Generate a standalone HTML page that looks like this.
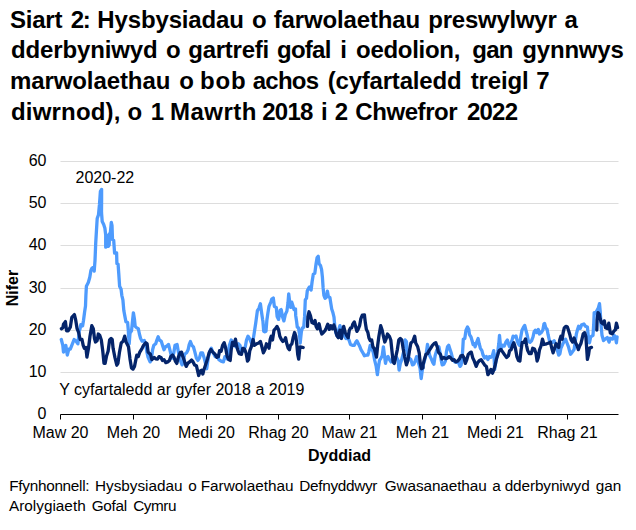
<!DOCTYPE html>
<html><head><meta charset="utf-8"><title>Siart 2</title>
<style>
html,body{margin:0;padding:0;background:#fff;}
svg{display:block;}
text{font-family:"Liberation Sans",sans-serif;fill:#000;}
.t{font-weight:bold;font-size:24px;}
.a{font-size:16px;}
.b{font-size:16px;font-weight:bold;}
.f{font-size:15.33px;}
</style></head><body>
<svg width="636" height="530" viewBox="0 0 636 530">
<rect width="636" height="530" fill="#fff"/>
<text class="t" x="10.0" y="27.5" textLength="52.48" lengthAdjust="spacing">Siart</text>
<text class="t" x="70.7" y="27.5" textLength="20.14" lengthAdjust="spacing">2:</text>
<text class="t" x="97.3" y="27.5" textLength="146.65" lengthAdjust="spacing">Hysbysiadau</text>
<text class="t" x="252.0" y="27.5">o</text>
<text class="t" x="273.7" y="27.5" textLength="146.5" lengthAdjust="spacing">farwolaethau</text>
<text class="t" x="428.3" y="27.5" textLength="128.51" lengthAdjust="spacing">preswylwyr</text>
<text class="t" x="564.6" y="27.5">a</text>
<text class="t" x="11.0" y="58.2" textLength="146.6" lengthAdjust="spacing">dderbyniwyd</text>
<text class="t" x="166.0" y="58.2">o</text>
<text class="t" x="188.3" y="58.2" textLength="80.86" lengthAdjust="spacing">gartrefi</text>
<text class="t" x="277.0" y="58.2" textLength="54.33" lengthAdjust="spacing">gofal</text>
<text class="t" x="340.3" y="58.2">i</text>
<text class="t" x="356.0" y="58.2" textLength="104.41" lengthAdjust="spacing">oedolion,</text>
<text class="t" x="472.3" y="58.2" textLength="41.17" lengthAdjust="spacing">gan</text>
<text class="t" x="522.3" y="58.2" textLength="101.54" lengthAdjust="spacing">gynnwys</text>
<text class="t" x="10.0" y="89.4" textLength="160.3" lengthAdjust="spacing">marwolaethau</text>
<text class="t" x="179.3" y="89.4">o</text>
<text class="t" x="200.0" y="89.4" textLength="45.78" lengthAdjust="spacing">bob</text>
<text class="t" x="252.7" y="89.4" textLength="66.38" lengthAdjust="spacing">achos</text>
<text class="t" x="327.7" y="89.4" textLength="133.87" lengthAdjust="spacing">(cyfartaledd</text>
<text class="t" x="470.7" y="89.4" textLength="57.85" lengthAdjust="spacing">treigl</text>
<text class="t" x="536.3" y="89.4">7</text>
<text class="t" x="11.0" y="120.1" textLength="109.45" lengthAdjust="spacing">diwrnod),</text>
<text class="t" x="127.6" y="120.1">o</text>
<text class="t" x="150.7" y="120.1">1</text>
<text class="t" x="170.0" y="120.1" textLength="86.4" lengthAdjust="spacing">Mawrth</text>
<text class="t" x="262.3" y="120.1" textLength="50.99" lengthAdjust="spacing">2018</text>
<text class="t" x="321.0" y="120.1">i</text>
<text class="t" x="334.7" y="120.1">2</text>
<text class="t" x="355.3" y="120.1" textLength="102.37" lengthAdjust="spacing">Chwefror</text>
<text class="t" x="467.0" y="120.1" textLength="50.99" lengthAdjust="spacing">2022</text>
<text class="f" x="9.3" y="490.5" textLength="80.24" lengthAdjust="spacing">Ffynhonnell:</text>
<text class="f" x="95.0" y="490.5" textLength="87.44" lengthAdjust="spacing">Hysbysiadau</text>
<text class="f" x="188.3" y="490.5">o</text>
<text class="f" x="200.7" y="490.5" textLength="92.88" lengthAdjust="spacing">Farwolaethau</text>
<text class="f" x="299.3" y="490.5" textLength="78.05" lengthAdjust="spacing">Defnyddwyr</text>
<text class="f" x="384.7" y="490.5" textLength="102.03" lengthAdjust="spacing">Gwasanaethau</text>
<text class="f" x="492.3" y="490.5">a</text>
<text class="f" x="504.7" y="490.5" textLength="84.96" lengthAdjust="spacing">dderbyniwyd</text>
<text class="f" x="595.7" y="490.5" textLength="25.58" lengthAdjust="spacing">gan</text>
<text class="f" x="9.0" y="510.5" textLength="76.69" lengthAdjust="spacing">Arolygiaeth</text>
<text class="f" x="91.7" y="510.5" textLength="35.39" lengthAdjust="spacing">Gofal</text>
<text class="f" x="133.3" y="510.5" textLength="43.14" lengthAdjust="spacing">Cymru</text>
<line x1="60.5" x2="618.5" y1="372.5" y2="372.5" stroke="#dddddd" stroke-width="1"/>
<line x1="60.5" x2="618.5" y1="330.5" y2="330.5" stroke="#dddddd" stroke-width="1"/>
<line x1="60.5" x2="618.5" y1="288.5" y2="288.5" stroke="#dddddd" stroke-width="1"/>
<line x1="60.5" x2="618.5" y1="245.5" y2="245.5" stroke="#dddddd" stroke-width="1"/>
<line x1="60.5" x2="618.5" y1="203.5" y2="203.5" stroke="#dddddd" stroke-width="1"/>
<line x1="60.5" x2="618.5" y1="161.5" y2="161.5" stroke="#dddddd" stroke-width="1"/>
<text class="a" x="46.5" y="419.0" text-anchor="end">0</text>
<text class="a" x="46.5" y="377.0" text-anchor="end">10</text>
<text class="a" x="46.5" y="335.0" text-anchor="end">20</text>
<text class="a" x="46.5" y="293.0" text-anchor="end">30</text>
<text class="a" x="46.5" y="250.0" text-anchor="end">40</text>
<text class="a" x="46.5" y="208.0" text-anchor="end">50</text>
<text class="a" x="46.5" y="166.0" text-anchor="end">60</text>
<polyline fill="none" stroke="#4e9bfd" stroke-width="3.3" stroke-linejoin="round" stroke-linecap="round" points="61.3,339.5 62.8,345.3 63.5,352.1 65.1,349.8 65.8,345.3 67.3,355.1 68.8,349.1 70.3,349.1 71.8,345.3 74.1,339.5 75.6,340.5 77.9,343.8 79.4,330.2 80.0,329.2 80.8,324.7 82.6,325.9 83.5,320.5 84.6,312.0 85.5,306.0 85.9,295.3 86.4,286.2 88.3,282.5 89.8,277.2 90.9,270.4 92.0,268.1 93.2,267.4 94.2,271.1 95.0,260.6 95.7,243.4 96.5,229.8 97.2,218.5 98.5,214.7 99.5,204.2 100.4,191.3 101.6,189.4 101.6,199.6 101.5,212.5 102.2,221.5 103.7,224.5 104.9,228.3 105.7,235.1 105.7,247.2 106.8,246.4 107.1,235.1 108.3,246.4 109.2,244.9 109.5,233.6 110.2,234.3 111.3,222.3 112.0,225.3 112.5,239.6 113.7,240.4 114.6,253.2 116.6,252.8 116.9,263.6 118.1,264.3 118.8,274.2 119.6,286.2 121.1,289.2 121.8,295.3 122.9,299.8 123.8,310.4 124.9,316.4 125.9,321.7 127.6,322.5 128.3,330.0 128.5,334.7 129.2,343.8 130.0,333.2 131.5,330.9 132.5,321.1 133.4,312.8 134.5,319.6 135.2,326.4 136.8,327.9 138.3,328.7 139.4,334.0 140.6,338.5 142.1,341.1 144.3,340.5 145.8,345.3 146.9,352.1 148.1,357.4 150.1,361.9 151.4,359.6 152.6,349.8 153.8,345.3 155.7,343.8 156.9,340.0 158.2,336.7 159.4,340.0 161.2,341.1 162.5,345.3 164.0,349.8 165.5,346.8 167.0,346.0 168.5,344.5 169.5,348.3 170.8,353.6 172.0,358.1 173.8,352.8 175.0,345.3 177.1,344.5 178.0,349.8 179.1,355.8 180.6,361.1 182.1,364.9 183.6,360.4 184.6,354.3 186.6,352.8 188.1,349.8 189.2,344.5 190.4,341.5 191.9,345.3 193.4,346.8 194.9,352.1 196.4,358.1 197.9,360.4 199.4,358.1 200.9,352.8 202.5,352.8 204.0,357.4 205.5,363.4 206.7,368.7 208.3,357.4 209.8,351.3 211.3,348.3 212.8,352.1 215.1,356.6 217.4,355.8 218.9,359.6 221.1,361.1 223.4,361.9 224.9,356.6 227.2,358.9 229.4,345.3 231.2,340.0 232.5,341.5 234.0,345.3 236.2,346.8 238.5,343.8 240.0,345.3 241.5,352.8 245.3,346.8 246.5,340.0 248.0,336.2 249.8,339.2 251.3,343.0 253.1,340.0 254.3,332.5 255.8,322.6 257.4,310.6 258.9,308.3 260.4,303.8 261.4,311.3 262.6,319.6 262.9,321.0 263.7,331.2 264.8,331.8 266.0,331.2 266.9,319.9 267.9,313.1 269.0,306.3 270.8,302.1 271.8,299.1 273.3,298.0 274.4,306.6 276.3,307.4 277.1,316.4 278.6,319.4 280.1,310.4 281.2,309.6 282.4,316.4 283.9,320.9 285.4,314.2 286.9,311.1 288.0,302.8 288.7,293.8 289.6,301.3 290.7,307.4 291.7,302.1 292.9,305.8 294.0,309.6 295.5,308.9 295.7,315.4 296.6,321.5 297.3,327.3 298.5,327.7 299.4,333.5 300.2,343.1 300.9,336.0 301.4,331.5 302.5,327.7 303.7,327.3 304.6,316.4 305.3,299.8 306.5,298.3 307.3,290.8 308.5,288.5 309.5,287.0 311.1,290.0 312.1,281.7 313.3,274.2 314.8,273.4 316.0,264.3 317.1,257.5 318.2,256.3 319.1,263.6 320.6,265.8 321.6,269.6 322.4,277.2 323.1,287.7 323.9,295.3 325.1,298.3 326.6,296.8 327.4,291.1 328.4,296.8 329.9,297.5 330.7,302.8 331.7,308.9 332.9,312.6 334.0,317.2 334.6,324.2 335.7,332.5 337.2,336.2 338.4,330.9 339.9,325.7 341.1,328.7 342.2,334.0 344.5,336.2 346.0,338.5 347.5,337.7 349.0,340.0 350.5,344.5 352.3,345.3 354.3,345.3 355.8,342.3 356.9,340.8 358.4,343.8 359.9,346.8 361.1,349.8 362.9,352.8 364.4,355.8 366.4,355.1 367.9,355.1 368.9,351.3 370.2,345.3 373.2,352.1 374.7,360.4 376.2,366.4 377.4,374.7 378.5,366.4 379.5,360.4 381.0,358.1 382.2,355.8 383.4,346.8 384.5,355.8 385.5,363.4 386.8,357.4 388.0,356.6 389.5,359.6 391.0,361.9 396.6,357.4 398.1,360.4 399.1,370.2 400.3,363.4 401.5,360.4 404.1,349.8 405.2,340.0 406.4,341.5 407.1,349.8 408.2,357.4 410.9,359.6 412.4,364.9 413.9,364.2 415.4,360.4 416.6,356.6 417.7,360.4 420.0,367.9 421.2,378.5 422.2,370.9 423.3,364.9 424.8,359.6 426.3,352.8 427.5,344.5 428.8,351.3 429.8,355.8 431.3,358.9 432.8,362.6 433.9,364.2 435.1,355.8 436.9,349.8 438.9,346.8 439.9,352.1 441.1,359.6 442.2,364.9 443.8,364.2 445.4,361.1 446.4,352.1 447.5,346.8 448.7,345.3 449.9,349.1 451.4,353.6 452.5,358.1 454.7,361.9 458.5,362.6 460.0,366.4 461.1,364.9 462.0,359.6 462.7,349.8 463.3,339.2 464.8,338.5 466.0,330.2 467.5,326.9 468.8,329.4 469.5,334.7 471.0,337.0 472.1,340.8 473.1,344.5 474.3,343.8 475.1,346.8 476.6,342.3 478.1,338.5 479.2,343.8 480.4,348.3 481.9,350.6 483.1,355.1 484.6,358.1 486.4,356.6 487.9,359.6 489.4,356.6 490.9,357.4 492.5,355.1 493.7,350.6 494.7,369.4 496.0,360.4 496.8,356.6 497.8,351.3 498.8,343.8 499.5,335.5 500.3,343.8 501.3,348.3 502.8,345.3 504.3,346.0 505.8,342.3 507.4,340.0 508.4,343.8 509.6,346.8 511.9,340.8 513.1,336.2 514.9,337.0 516.0,335.9 517.2,340.8 518.4,343.8 519.4,345.3 520.6,337.7 522.0,330.2 523.5,327.2 524.7,325.4 525.9,330.2 527.3,335.5 528.5,341.5 530.0,342.3 531.5,340.8 533.0,337.0 534.2,331.7 535.3,330.2 536.8,332.5 538.3,329.4 539.5,334.0 541.3,332.5 542.8,330.2 543.9,324.2 544.6,323.4 545.8,327.9 547.1,329.4 548.1,334.7 549.3,340.0 550.4,342.3 552.6,342.3 554.2,340.8 555.4,343.8 557.2,349.8 558.7,355.1 559.9,353.6 560.9,348.3 562.5,344.5 564.0,341.5 565.5,339.2 567.0,343.0 568.5,346.8 569.6,351.1 570.6,354.2 572.3,351.9 574.1,349.6 575.3,341.3 576.4,333.8 577.4,330.0 578.6,326.2 580.2,328.5 581.7,324.7 583.9,324.0 585.4,326.2 587.4,327.0 588.5,338.3 589.5,342.8 590.7,336.8 593.0,335.3 593.7,324.7 594.2,312.6 595.5,313.4 597.1,310.4 598.3,308.1 599.5,303.6 600.2,311.1 601.0,324.7 602.0,335.3 603.5,340.6 605.1,339.1 607.3,337.5 609.1,342.1 610.3,338.3 612.6,339.1 614.1,335.3 615.3,336.8 616.4,342.8 617.1,336.8"/>
<polyline fill="none" stroke="#04246a" stroke-width="3.3" stroke-linejoin="round" stroke-linecap="round" points="61.4,328.7 62.8,327.9 63.5,324.2 65.4,321.6 66.6,330.9 68.1,330.9 70.3,327.2 71.8,317.4 74.4,314.6 75.6,319.6 77.1,328.7 78.6,332.5 80.2,339.5 82.0,339.5 83.2,345.3 84.4,348.3 85.9,347.5 86.9,357.1 88.5,348.3 90.0,336.2 91.8,325.7 93.3,328.7 94.5,338.5 95.5,342.0 97.1,340.8 98.3,334.0 99.8,335.5 101.3,340.0 102.8,351.3 104.0,363.4 105.1,363.4 106.6,355.8 108.1,351.3 109.6,340.0 111.1,338.5 112.2,339.5 113.1,348.3 114.9,357.4 116.8,365.2 117.9,363.4 119.4,352.8 121.2,343.0 123.2,341.1 124.7,336.2 126.2,342.3 128.5,346.8 130.0,358.9 131.5,367.9 133.0,369.1 134.5,366.4 136.0,358.9 136.8,355.1 138.3,356.6 139.8,352.1 142.1,348.3 143.6,345.3 145.8,342.7 147.1,343.8 148.1,352.1 150.4,354.3 151.9,359.6 154.2,357.4 155.7,358.9 157.5,359.2 159.0,356.6 160.9,357.4 162.5,360.4 164.0,359.6 165.8,362.6 167.7,361.9 169.5,360.4 170.8,356.6 172.6,355.1 174.1,357.4 175.3,361.1 176.8,363.4 178.3,357.4 180.1,352.8 181.6,352.1 182.8,356.6 184.0,359.6 185.1,363.4 186.2,366.4 187.7,363.4 189.6,361.9 191.6,360.1 193.1,361.9 194.6,364.9 196.4,365.7 197.6,370.9 198.7,375.5 200.2,370.9 201.7,370.2 202.8,374.0 204.0,369.4 205.5,364.9 207.5,358.9 209.1,352.8 210.9,349.5 212.8,352.1 215.1,354.3 216.9,357.4 218.4,356.6 219.6,350.6 221.1,351.3 222.6,345.3 224.2,342.7 225.7,348.3 227.2,356.6 228.7,359.6 230.2,360.4 231.2,349.8 232.5,342.3 234.0,345.3 235.5,339.2 236.5,345.3 237.7,349.8 239.2,353.6 241.5,354.3 242.7,348.3 244.5,349.1 246.0,352.8 247.5,361.1 248.6,359.6 249.8,350.6 251.3,346.8 253.1,339.5 254.3,345.3 256.6,343.8 258.9,343.0 260.4,341.5 261.9,346.8 263.4,352.8 264.9,349.8 266.4,343.8 267.9,345.3 269.0,348.3 270.2,339.2 271.2,336.2 272.5,340.0 274.0,330.2 275.5,328.7 277.0,326.4 278.5,329.4 279.8,336.2 281.4,339.5 282.9,341.5 284.4,340.5 285.6,337.7 286.8,343.8 288.2,348.3 289.4,349.8 290.4,345.3 291.9,343.8 293.1,337.7 294.6,332.5 295.8,336.2 296.9,345.3 297.7,354.3 298.7,359.2 299.5,351.3 299.9,346.8 301.4,347.1 303.2,347.5"/>
<polyline fill="none" stroke="#04246a" stroke-width="3.3" stroke-linejoin="round" stroke-linecap="round" points="307.5,326.4 307.9,316.6 309.0,311.8 310.5,315.8 312.0,322.6 313.5,323.4 315.0,320.4 316.1,326.4 317.3,328.7 319.1,323.8 320.3,329.4 321.8,334.0 323.3,332.5 324.8,330.9 326.3,327.9 327.8,324.2 329.4,329.4 330.9,325.7 332.4,328.7 333.9,324.9 335.4,330.2 336.9,335.5 338.4,337.7 339.9,330.2 341.4,338.5 342.6,330.2 343.7,326.4 345.2,332.5 346.7,335.5 348.2,337.7 349.3,330.2 350.5,327.9 351.7,327.9 352.8,324.2 354.3,321.9 355.8,327.2 356.9,331.4 358.1,329.4 359.6,325.7 360.8,318.9 362.3,315.1 364.4,314.8 365.3,322.6 366.4,329.4 367.9,332.5 368.9,337.7 370.2,340.5 371.7,340.0 372.9,346.8 374.2,348.3 375.4,352.8 376.5,357.1 377.7,345.3 378.9,336.2 380.7,325.7 382.2,330.2 383.4,336.2 384.8,342.0 386.0,339.2 387.5,334.0 389.3,336.2 390.8,340.0 392.0,351.3 393.1,361.9 394.3,363.4 395.5,358.1 397.3,349.8 398.8,340.0 400.3,338.5 401.8,340.0 403.1,348.3 404.6,356.6 406.4,364.9 407.9,360.4 409.4,351.3 410.9,343.0 412.7,341.5 414.7,336.2 415.7,343.0 417.7,346.8 419.2,352.8 420.3,363.4 421.5,368.7 423.0,367.9 423.0,364.9 424.5,358.9 426.0,354.3 427.5,353.6 429.1,350.6 430.6,348.3 432.4,345.3 433.9,343.8 435.8,342.7 437.4,347.5 438.4,352.1 440.4,354.3 441.9,358.9 443.7,357.4 445.7,358.6 447.5,358.1 449.0,356.6 450.9,358.1 452.5,360.4 454.0,359.6 455.8,361.9 457.7,361.1 459.5,358.9 460.8,355.8 462.7,355.5 464.1,358.1 465.3,363.4 466.8,359.6 468.3,354.3 469.8,352.8 471.3,352.1 472.8,358.1 474.0,360.4 475.1,363.4 476.2,366.4 477.7,362.6 479.6,360.4 481.1,359.6 482.6,361.9 484.6,364.9 486.4,366.4 487.9,374.7 489.4,372.5 490.9,369.4 492.5,373.2 494.0,369.4 495.2,364.9 496.3,359.6 497.5,355.8 499.1,350.6 500.9,349.5 502.8,352.1 504.8,355.1 506.6,357.4 508.4,355.8 509.6,350.6 511.1,349.8 512.6,345.3 513.8,342.7 515.4,348.3 516.9,356.6 518.4,360.4 519.9,361.1 520.9,351.3 522.2,342.3 524.0,342.3 525.5,338.9 526.5,345.3 527.7,350.6 529.2,353.6 531.2,353.6 532.7,348.3 534.5,349.1 536.0,353.6 537.1,361.1 538.3,357.4 539.5,349.8 541.0,346.0 542.5,339.2 544.0,344.5 546.6,343.8 548.9,343.0 550.4,342.0 551.6,347.5 553.1,352.8 554.6,348.3 556.1,343.8 557.6,346.0 558.7,347.5 559.7,340.0 560.9,336.2 562.2,339.2 563.2,332.5 564.3,327.9 565.8,326.4 567.3,326.9 568.5,330.2 570.0,335.3 571.1,339.8 572.6,342.1 574.1,338.0 575.6,342.8 577.1,345.8 578.3,349.6 579.4,346.6 580.9,343.6 582.0,339.1 583.2,333.8 584.7,332.7 585.9,336.8 586.6,347.4 587.4,359.4 588.5,354.9 589.5,348.1 591.5,347.4"/>
<polyline fill="none" stroke="#04246a" stroke-width="3.3" stroke-linejoin="round" stroke-linecap="round" points="596.8,330.0 597.1,320.2 598.0,312.6 599.3,314.2 600.2,318.7 601.3,322.5 603.1,324.0 604.3,320.9 605.5,327.7 607.3,328.5 608.8,323.2 610.3,333.0 612.2,333.8 614.1,330.8 615.3,330.0 616.4,323.2 617.6,327.7"/>
<line x1="60.5" x2="618.5" y1="414.5" y2="414.5" stroke="#000" stroke-width="1"/>
<line x1="60.5" x2="60.5" y1="414.5" y2="419.5" stroke="#000" stroke-width="1"/>
<line x1="133.5" x2="133.5" y1="414.5" y2="419.5" stroke="#000" stroke-width="1"/>
<line x1="206.5" x2="206.5" y1="414.5" y2="419.5" stroke="#000" stroke-width="1"/>
<line x1="278.5" x2="278.5" y1="414.5" y2="419.5" stroke="#000" stroke-width="1"/>
<line x1="349.5" x2="349.5" y1="414.5" y2="419.5" stroke="#000" stroke-width="1"/>
<line x1="422.5" x2="422.5" y1="414.5" y2="419.5" stroke="#000" stroke-width="1"/>
<line x1="495.5" x2="495.5" y1="414.5" y2="419.5" stroke="#000" stroke-width="1"/>
<line x1="567.5" x2="567.5" y1="414.5" y2="419.5" stroke="#000" stroke-width="1"/>
<text class="a" x="60.5" y="438" text-anchor="middle">Maw 20</text>
<text class="a" x="133.5" y="438" text-anchor="middle">Meh 20</text>
<text class="a" x="206.5" y="438" text-anchor="middle">Medi 20</text>
<text class="a" x="278.5" y="438" text-anchor="middle">Rhag 20</text>
<text class="a" x="349.5" y="438" text-anchor="middle">Maw 21</text>
<text class="a" x="422.5" y="438" text-anchor="middle">Meh 21</text>
<text class="a" x="495.5" y="438" text-anchor="middle">Medi 21</text>
<text class="a" x="567.5" y="438" text-anchor="middle">Rhag 21</text>
<text class="b" x="339.5" y="461" text-anchor="middle">Dyddiad</text>
<text class="b" transform="translate(18.2,288) rotate(-90)" text-anchor="middle">Nifer</text>
<text class="a" x="75.5" y="183">2020-22</text>
<text class="a" x="59.2" y="395">Y cyfartaledd ar gyfer 2018 a 2019</text>
</svg>
</body></html>
